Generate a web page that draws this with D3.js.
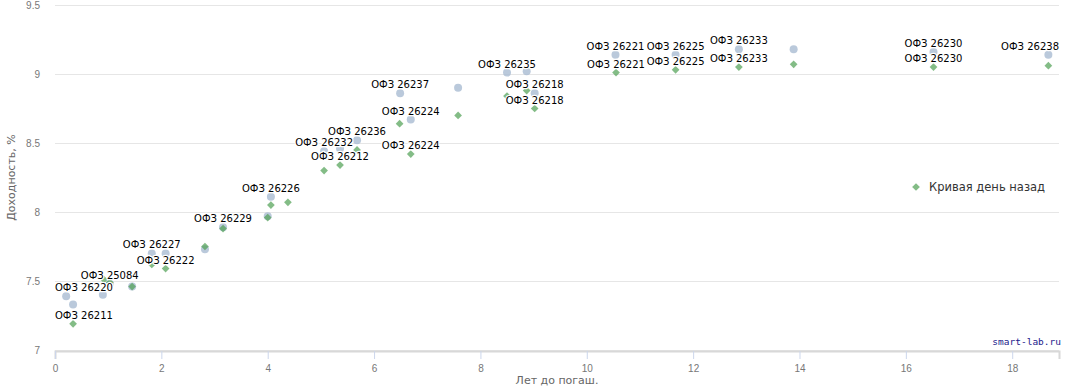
<!DOCTYPE html>
<html>
<head>
<meta charset="utf-8">
<script src="https://cdn.jsdelivr.net/npm/d3@7"></script>
<style>
  body { margin: 0; background: #fff; }
  svg { font-family: "DejaVu Sans", Verdana, sans-serif; }
  .grid line { stroke: #e6e6e6; }
  .tick text { fill: #777; font-size: 10px; }
  .lbl { font-size: 10px; fill: #000; stroke: #fff; stroke-width: 2.5px; paint-order: stroke; stroke-linejoin: round; }
</style>
</head>
<body>
<svg id="chart" width="1084" height="387"></svg>
<script>
// текущая кривая (кружки)
const nowYears  = [0.21, 0.34, 0.90, 1.03, 1.45, 1.82, 2.08, 2.82, 3.16, 4.00, 4.06, 5.06, 5.36, 5.68, 6.49, 6.69, 7.58, 8.50, 8.87, 9.02, 10.54, 11.67, 12.86, 13.89, 16.52, 18.68];
const nowYield  = [7.39, 7.33, 7.40, 7.48, 7.46, 7.70, 7.70, 7.73, 7.89, 7.97, 8.11, 8.44, 8.46, 8.52, 8.86, 8.67, 8.90, 9.01, 9.02, 8.86, 9.14, 9.14, 9.18, 9.18, 9.16, 9.14];
const nowLabels = ["ОФЗ 26220", "", "", "ОФЗ 25084", "", "ОФЗ 26227", "", "", "ОФЗ 26229", "", "ОФЗ 26226", "ОФЗ 26232", "", "ОФЗ 26236", "ОФЗ 26237", "ОФЗ 26224", "", "ОФЗ 26235", "", "ОФЗ 26218", "ОФЗ 26221", "ОФЗ 26225", "ОФЗ 26233", "", "ОФЗ 26230", "ОФЗ 26238"];

// кривая день назад (ромбы)
const prevYears  = [0.34, 0.92, 1.03, 1.45, 1.82, 2.08, 2.82, 3.16, 4.00, 4.06, 4.38, 5.06, 5.36, 5.68, 6.48, 6.69, 7.58, 8.50, 8.87, 9.02, 10.55, 11.67, 12.86, 13.89, 16.52, 18.68];
const prevYield  = [7.19, 7.51, 7.49, 7.46, 7.62, 7.59, 7.75, 7.88, 7.96, 8.05, 8.07, 8.30, 8.34, 8.45, 8.64, 8.42, 8.70, 8.84, 8.88, 8.75, 9.01, 9.03, 9.05, 9.07, 9.05, 9.06];
const prevLabels = ["ОФЗ 26211", "", "", "", "", "ОФЗ 26222", "", "", "", "", "", "", "ОФЗ 26212", "", "", "ОФЗ 26224", "", "", "", "ОФЗ 26218", "ОФЗ 26221", "ОФЗ 26225", "ОФЗ 26233", "", "ОФЗ 26230", ""];

const xTicks = [0, 2, 4, 6, 8, 10, 12, 14, 16, 18];
const yTicks = [7, 7.5, 8, 8.5, 9, 9.5];

const svg = d3.select("#chart");
const plotLeft = 55, plotRight = 1059, plotTop = 5, plotBottom = 350;

const x = d3.scaleLinear().domain([0, 18.88]).range([plotLeft, plotRight]);
const y = d3.scaleLinear().domain([7, 9.5]).range([plotBottom, plotTop]);

// сетка
svg.append("g")
    .attr("class", "grid")
    .attr("transform", `translate(${plotLeft},0)`)
    .call(d3.axisLeft(y).tickValues(yTicks).tickSize(-(plotRight - plotLeft)).tickFormat(""))
    .call(g => g.select(".domain").remove());

// подписи оси Y
svg.append("g")
    .attr("transform", `translate(${plotLeft - 12},0)`)
    .call(d3.axisLeft(y).tickValues(yTicks).tickSize(0).tickFormat(d3.format("")))
    .call(g => g.select(".domain").remove());

// ось X
const xAxis = svg.append("g")
    .attr("transform", `translate(0,${plotBottom + 1})`)
    .call(d3.axisBottom(x).tickValues(xTicks).tickSize(8).tickPadding(6).tickFormat(d3.format("")));
xAxis.select(".domain").attr("stroke", "#d8d8d8").attr("stroke-width", 2);
xAxis.selectAll(".tick line").attr("stroke", "#ccd6eb");

svg.append("text")
    .attr("x", (plotLeft + plotRight) / 2)
    .attr("y", 384)
    .attr("text-anchor", "middle")
    .attr("font-size", 11)
    .attr("fill", "#666")
    .text("Лет до погаш.");

svg.append("text")
    .attr("transform", `translate(15,${(plotTop + plotBottom) / 2}) rotate(-90)`)
    .attr("text-anchor", "middle")
    .attr("font-size", 11)
    .attr("fill", "#666")
    .text("Доходность, %");

const nowData = nowYears.map((v, i) => ({ x: v, y: nowYield[i], label: nowLabels[i] }));
const prevData = prevYears.map((v, i) => ({ x: v, y: prevYield[i], label: prevLabels[i] }));

// точки
svg.append("g").selectAll("circle")
    .data(nowData)
    .enter()
    .append("circle")
    .attr("cx", d => x(d.x))
    .attr("cy", d => y(d.y))
    .attr("r", 4)
    .attr("fill", "#a9bbd2")
    .attr("fill-opacity", 0.8);

const diamond = d3.symbol().type(d3.symbolDiamond2).size(38);
svg.append("g").selectAll("path")
    .data(prevData)
    .enter()
    .append("path")
    .attr("d", diamond)
    .attr("transform", d => `translate(${x(d.x)},${y(d.y)})`)
    .attr("fill", "#4f9f52")
    .attr("fill-opacity", 0.7);

// подписи точек
function addLabels(data) {
    const g = svg.append("g");
    data.filter(d => d.label).forEach(d => {
        const t = g.append("text")
            .attr("class", "lbl")
            .attr("text-anchor", "middle")
            .attr("x", x(d.x))
            .attr("y", y(d.y) - 5)
            .text(d.label);
        const w = t.node().getComputedTextLength();
        let cx = x(d.x);
        if (cx - w / 2 < plotLeft) cx = plotLeft + w / 2;
        if (cx + w / 2 > plotRight) cx = plotRight - w / 2;
        t.attr("x", cx);
    });
}
addLabels(nowData);
addLabels(prevData);

// легенда
svg.append("path")
    .attr("d", diamond)
    .attr("transform", "translate(916,187)")
    .attr("fill", "#4f9f52")
    .attr("fill-opacity", 0.7);
svg.append("text")
    .attr("x", 929)
    .attr("y", 191)
    .attr("font-size", 11.5)
    .attr("fill", "#333")
    .text("Кривая день назад");

svg.append("text")
    .attr("x", 1061)
    .attr("y", 345)
    .attr("text-anchor", "end")
    .attr("font-family", "DejaVu Sans Mono, monospace")
    .attr("font-size", 9.5)
    .attr("fill", "#1a1a8c")
    .text("smart-lab.ru");
</script>
</body>
</html>
